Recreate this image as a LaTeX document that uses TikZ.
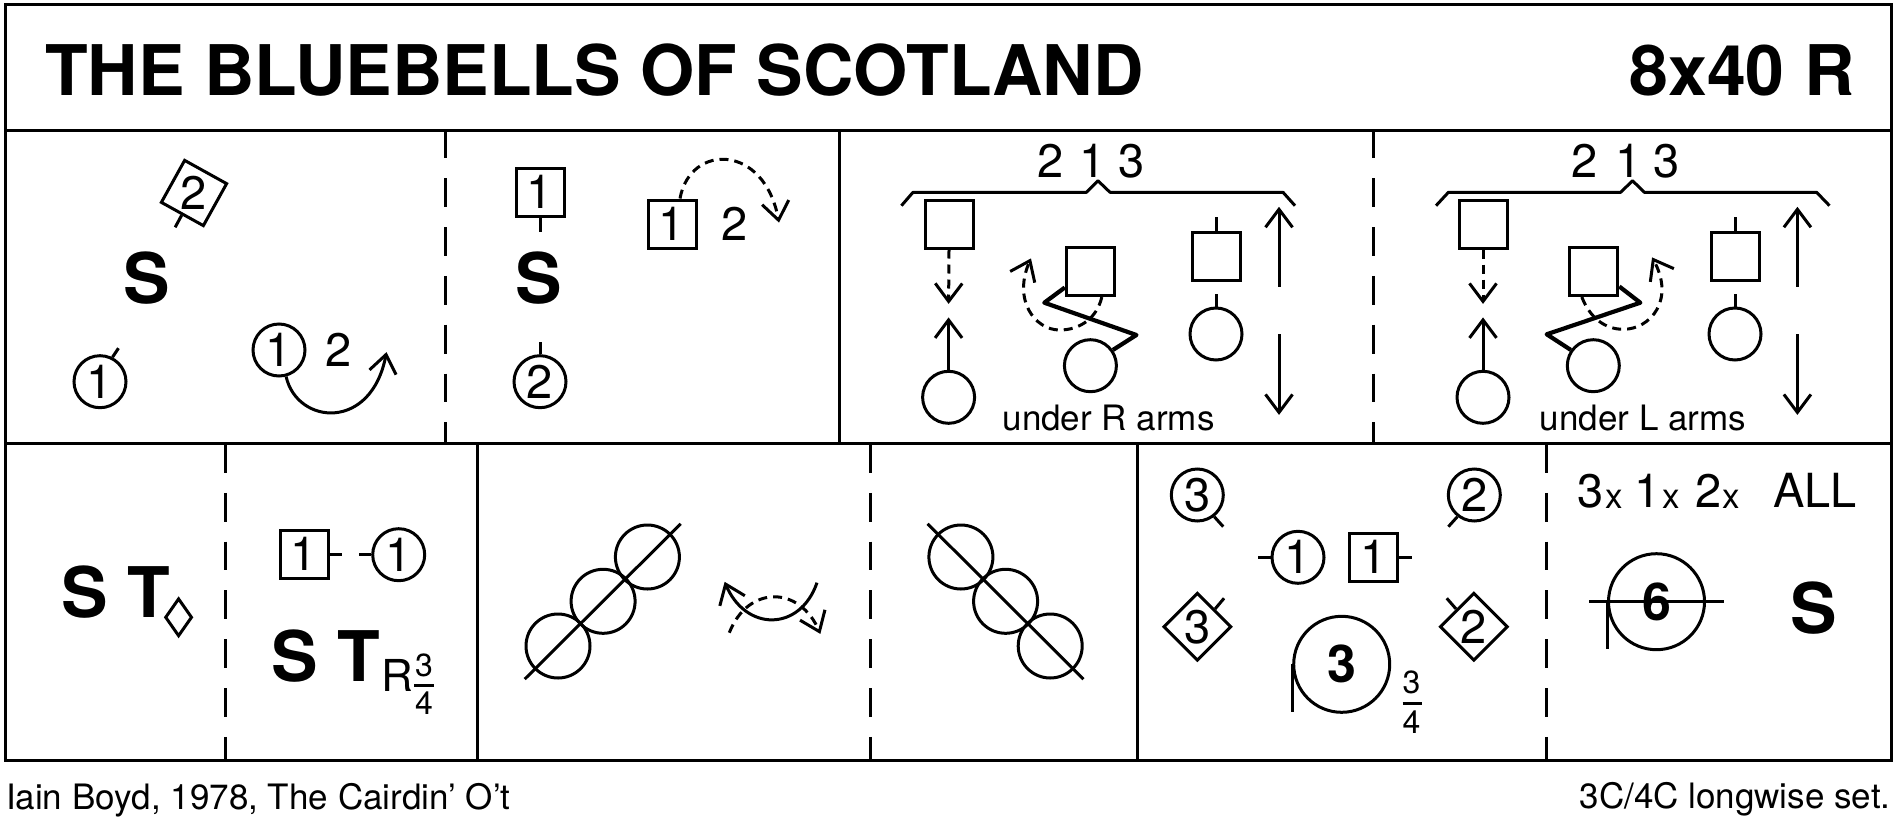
\documentclass[tikz,border=0pt]{standalone}
\usepackage{fontspec}
\setmainfont{TeX Gyre Heros}
\usetikzlibrary{arrows.meta,shapes.geometric}
\pgfdeclarearrow{
	name=Stick,
	setup code={\pgfarrowssettipend{2.6pt}\pgfarrowssetlineend{0pt}},
	drawing code={
		\pgfsetdash{}{0pt}
		\pgfsetlinewidth{3pt}
		\pgfsetmiterjoin
		\pgfpathmoveto{\pgfqpoint{-18pt}{13.5pt}}
		\pgfpathlineto{\pgfqpoint{0pt}{0pt}}
		\pgfpathlineto{\pgfqpoint{-18pt}{-13.5pt}}
		\pgfusepathqstroke
	}
}

\begin{document}
\begin{tikzpicture}[x=1pt,y=-1pt,line width=3pt,
	>={Stick},
	every node/.style={inner sep=0pt},
	heading/.style={font=\fontsize{69.8}{70}\selectfont\bfseries},
	num/.style={font=\fontsize{47}{47}\selectfont},
	boldnum/.style={font=\fontsize{52}{52}\selectfont\bfseries},
	note/.style={font=\fontsize{35}{35}\selectfont},
	fracnum/.style={font=\fontsize{32}{32}\selectfont},
	man/.style={draw,rectangle,minimum size=48pt,num},
	lady/.style={draw,circle,minimum size=52pt,num},
	corner/.style={draw,diamond,minimum size=68pt,num},
	ring/.style={draw,circle,minimum size=96pt,boldnum},
	broken/.style={dash pattern=on 9pt off 6pt},
	phrase/.style={dash pattern=on 28.8pt off 20pt}]
	\useasboundingbox (0,0) rectangle (1900,822);
	\draw (5,4) rectangle (1891,760);
	\draw (5,130) -- (1891,130) (5,443) -- (1891,443)
		(839,130) -- (839,443)
		(477,443) -- (477,760) (1137,443) -- (1137,760);
	\draw[phrase] (445.5,129.5) -- (445.5,443);
	\draw[phrase] (1373,129.5) -- (1373,443);
	\draw[phrase] (225.7,444) -- (225.7,760);
	\draw[phrase] (870,444) -- (870,760);
	\draw[phrase] (1546,444) -- (1546,760);

	\node[heading,anchor=base west] (title) at (43.5,95.7) {THE BLUEBELLS OF SCOTLAND};
	\node[heading,anchor=base east] (bars) at (1856,95.7) {8x40 R};
	\node[note,anchor=base west] (deviser) at (4.5,809) {Iain Boyd, 1978, The Cairdin’ O’t};
	\node[note,anchor=base east] (settype) at (1892,808) {3C/4C longwise set.};

	\node[draw,rectangle,minimum size=48pt,rotate=-29] (mantilt) at (194,193) {};
	\node[num] (mantiltnum) at (mantilt) {2};
	\node[lady] (ladyone) at (100,381.7) {1};
	\node[lady] (ladycast) at (279,350) {1};
	\node[num] (castnext) at (339,350) {2};
	\node[heading] (setone) at (147,278) {S};
	\coordinate (casttip) at (386.5,352);
	\draw (mantilt.south) -- ++(-6.5,12);
	\draw (ladyone.63) -- ++(6,-9);
	\draw[->] (ladycast.-75) .. controls (297,425) and (372,432) .. (casttip);

	\node[man] (manone) at (540,192) {1};
	\node[lady] (ladytwo) at (540,381.7) {2};
	\node[heading] (settwo) at (539,278) {S};
	\node[man] (mancast) at (672,224) {1};
	\node[num] (mannext) at (734.4,224) {2};
	\coordinate (mantip) at (779,222.7);
	\draw (manone.south) -- ++(0,14);
	\draw (ladytwo.north) -- ++(0,-12);
	\draw[->,broken] ([xshift=8pt]mancast.north) .. controls (690,143) and (765,143) .. (mantip);

	\node[num] (rtwo) at (1050.7,160.7) {2};
	\node[num] (rone) at (1093,160.7) {1};
	\node[num] (rthree) at (1132,160.7) {3};
	\draw[line join=round] (901.4,205.7) -- (913,192.3) -- (1086.4,192.3) -- (1097.9,180.7) -- (1110,192.3) -- (1283,192.3) -- (1295,205.7);
	\node[man] (mana) at (949,224) {};
	\node[lady] (ladya) at (948.6,397.3) {};
	\coordinate (downa) at (948.6,304);
	\coordinate (upa) at (948.6,317.3);
	\draw[->,broken] (mana.south) -- (downa);
	\draw[->] (ladya.north) -- (upa);
	\node[man] (manb) at (1090.3,271.5) {};
	\node[lady] (ladyb) at (1090.4,365.7) {};
	\coordinate (turnb) at (1031,258.3);
	\draw[->,broken] ([xshift=11.5pt]manb.south) .. controls (1097,318) and (1080,330) .. (1059.6,330) .. controls (1035,330) and (1012,300) .. (turnb);
	\draw[line width=4.2pt,line join=round] ([yshift=-16pt]manb.west) -- (1044.3,302.7) -- (1136.4,335) -- (ladyb.35);
	\node[man] (manc) at (1216,256) {};
	\node[lady] (ladyc) at (1216,334) {};
	\draw (manc.north) -- ++(0,-13.5);
	\draw (ladyc.north) -- ++(0,-12.5);
	\coordinate (rupfoot) at (1279,286.7);
	\coordinate (ruptip) at (1279,206.7);
	\coordinate (rdownfoot) at (1279,334);
	\coordinate (rdowntip) at (1279,415);
	\draw[->] (rupfoot) -- (ruptip);
	\draw[->] (rdownfoot) -- (rdowntip);
	\node[note] (underr) at (1108.6,418.3) {under R arms};

	\node[num] (ltwo) at (1584.5,160.7) {2};
	\node[num] (lone) at (1628.4,160.7) {1};
	\node[num] (lthree) at (1666.6,160.7) {3};
	\draw[line join=round] (1436,205.7) -- (1448.4,192.3) -- (1620.7,192.3) -- (1632.5,180.7) -- (1644.3,192.3) -- (1816.6,192.3) -- (1829.5,205.7);
	\node[man] (mand) at (1483,224) {};
	\node[lady] (ladyd) at (1483,397.3) {};
	\coordinate (downd) at (1483,304);
	\coordinate (upd) at (1483,317.3);
	\draw[->,broken] (mand.south) -- (downd);
	\draw[->] (ladyd.north) -- (upd);
	\node[man] (mane) at (1593.8,271.5) {};
	\node[lady] (ladye) at (1593.3,365.7) {};
	\coordinate (turne) at (1652,257.3);
	\draw[->,broken] ([xshift=-12pt]mane.south) .. controls (1590,318) and (1605,329.3) .. (1623.4,329.3) .. controls (1650,329.3) and (1676,300) .. (turne);
	\draw[line width=4.2pt,line join=round] ([yshift=-15pt]mane.east) -- (1640.3,302.7) -- (1546.7,334.3) -- (ladye.145);
	\node[man] (manf) at (1735,256) {};
	\node[lady] (ladyf) at (1735,334) {};
	\draw (manf.north) -- ++(0,-13.5);
	\draw (ladyf.north) -- ++(0,-12.5);
	\coordinate (lupfoot) at (1797.4,286.7);
	\coordinate (luptip) at (1797.4,206.7);
	\coordinate (ldownfoot) at (1797.4,334);
	\coordinate (ldowntip) at (1797.4,415);
	\draw[->] (lupfoot) -- (luptip);
	\draw[->] (ldownfoot) -- (ldowntip);
	\node[note] (underl) at (1643,418.3) {under L arms};

	\node[heading] (sthree) at (85,591.7) {S};
	\node[heading] (tthree) at (149,591.7) {T};
	\node[draw,diamond,minimum width=27pt,minimum height=38pt] (tdiamond) at (178.6,617.3) {};
	\node[man] (manturn) at (304,554) {1};
	\node[lady] (ladyturn) at (398.7,554.7) {1};
	\draw (manturn.east) -- ++(12.7,0);
	\draw (ladyturn.west) -- ++(-12,0);
	\node[heading] (sfour) at (295,656) {S};
	\node[heading] (tfour) at (359,656) {T};
	\node[font=\fontsize{44}{44}\selectfont] (tright) at (397.3,675) {R};
	\node[fracnum] (tfracup) at (424,665) {3};
	\node[fracnum] (tfracdown) at (424,703) {4};
	\draw (414.3,685) -- (434,685);

	\node[draw,circle,minimum size=64pt] (dfa) at (558,646) {};
	\node[draw,circle,minimum size=64pt] (dfb) at (603.1,601.3) {};
	\node[draw,circle,minimum size=64pt] (dfc) at (647.4,557) {};
	\draw[shorten <=-47pt,shorten >=-47pt] (dfa.center) -- (dfc.center);
	\node[draw,circle,minimum size=64pt] (dga) at (960.9,557) {};
	\node[draw,circle,minimum size=64pt] (dgb) at (1005.6,601.3) {};
	\node[draw,circle,minimum size=64pt] (dgc) at (1050.2,646) {};
	\draw[shorten <=-47pt,shorten >=-47pt] (dga.center) -- (dgc.center);
	\coordinate (swapa) at (817,582.7);
	\coordinate (swapb) at (724.6,581.7);
	\coordinate (swapc) at (729.3,632.7);
	\coordinate (swapd) at (820.4,634);
	\draw[->] (swapa) .. controls (800,632) and (745,632) .. (swapb);
	\draw[->,broken] (swapc) .. controls (748,585) and (800,585) .. (swapd);

	\node[lady] (ladythreetl) at (1197.3,495) {3};
	\node[lady] (ladytwotr) at (1474.3,495) {2};
	\node[lady] (ladyonemid) at (1298,557.3) {1};
	\node[man] (manonemid) at (1373.6,557.3) {1};
	\node[corner] (cornerthree) at (1197.3,626.7) {3};
	\node[corner] (cornertwo) at (1473.8,626.7) {2};
	\node[ring] (ringthree) at (1341.7,664.3) {3};
	\draw (ladythreetl.-52) -- ++(9,10);
	\draw (ladytwotr.232) -- ++(-9,10);
	\draw (ladyonemid.west) -- ++(-12.4,0);
	\draw (manonemid.east) -- ++(13.3,0);
	\draw (cornerthree.45) -- ++(9,-10.7);
	\draw (cornertwo.135) -- ++(-9.3,-10.7);
	\draw (ringthree.west) -- ++(0,48);
	\node[fracnum] (ringup) at (1411.4,682.3) {3};
	\node[fracnum] (ringdown) at (1411.4,721.7) {4};
	\draw (1402.6,703.3) -- (1422,703.3);

	\node[num] (repthree) at (1590.7,490.7) {3};
	\node[note] (repthreex) at (1613.8,499.3) {x};
	\node[num] (repone) at (1648,490.7) {1};
	\node[note] (reponex) at (1671.7,499.3) {x};
	\node[num] (reptwo) at (1708.6,490.7) {2};
	\node[note] (reptwox) at (1731,499.3) {x};
	\node[num] (repall) at (1815,490.7) {ALL};
	\node[ring] (ringsix) at (1656.5,601.7) {6};
	\draw ([xshift=-18pt]ringsix.west) -- ([xshift=18pt]ringsix.east);
	\draw (ringsix.west) -- ++(0,47);
	\node[heading] (setall) at (1813.7,608.3) {S};
\end{tikzpicture}
\end{document}
